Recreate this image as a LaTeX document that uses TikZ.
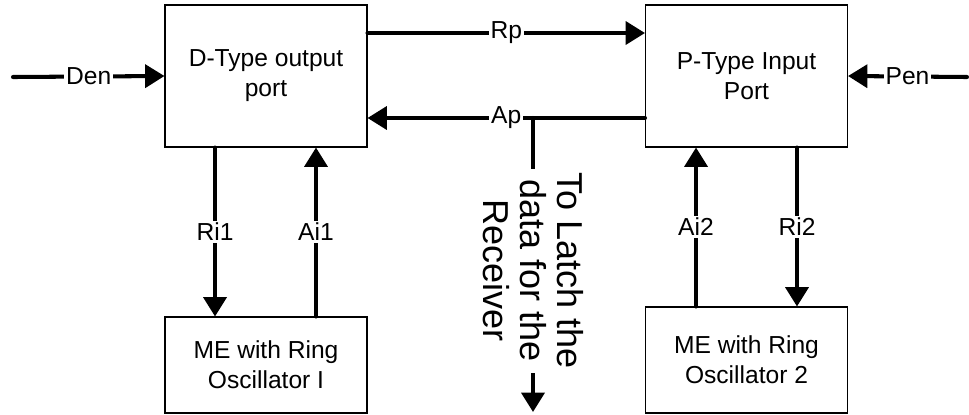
\documentclass[tikz,border=0pt]{standalone}
\usepackage{fontspec}
\setmainfont{Liberation Sans}
\usetikzlibrary{arrows.meta}
\tikzset{
  box/.style={draw, line width=0.6pt, minimum width=4.04cm, align=center,
    font=\fontsize{14}{17}\selectfont},
  sig/.style={line width=2.3pt, line cap=round, -{Triangle[length=11pt,width=13pt]}},
  lbl/.style={fill=white, inner sep=1pt, font=\fontsize{14}{16}\selectfont},
  rottxt/.style={fill=white, inner sep=2pt, rotate=-90, align=center,
    font=\fontsize{20.5}{21}\selectfont}
}

\begin{document}
\begin{tikzpicture}[x=0.02cm, y=-0.02cm]
        \useasboundingbox (0,0) rectangle (969,414);

        \node[box, minimum height=2.84cm] (D) at (266,76) {D-Type output\\port};
        \node[box, minimum height=2.84cm] (P) at (746.5,76) {P-Type Input\\Port};
        \node[box, minimum height=1.92cm] (M1) at (266,365) {ME with Ring\\Oscillator I};
        \node[box, minimum height=2.12cm] (M2) at (746.5,360) {ME with Ring\\Oscillator 2};

        \coordinate (den) at (13,77);
        \coordinate (pen) at (967,77);
        \coordinate (tap) at (533,118);
        \coordinate (rcv) at (533,412);

        \draw[sig] (den) -- node[lbl] {Den} (D.west);
        \draw[sig] (pen) -- node[lbl] {Pen} (P.east);
        \draw[sig] ([yshift=0.86cm]D.east) -- node[lbl] {Rp} ([yshift=0.86cm]P.west);
        \draw[sig] ([yshift=-0.84cm]P.west) -- node[lbl] {Ap} ([yshift=-0.84cm]D.east);
        \draw[sig] (tap) -- node[rottxt, pos=0.52] {To Latch the\\data for the\\Receiver} (rcv);

        \draw[sig] ([xshift=-1.02cm]D.south) -- node[lbl] {Ri1} ([xshift=-1.02cm]M1.north);
        \draw[sig] ([xshift=1cm]M1.north) -- node[lbl] {Ai1} ([xshift=1cm]D.south);
        \draw[sig] ([xshift=-1.01cm]M2.north) -- node[lbl] {Ai2} ([xshift=-1.01cm]P.south);
        \draw[sig] ([xshift=1.01cm]P.south) -- node[lbl] {Ri2} ([xshift=1.01cm]M2.north);
      \end{tikzpicture}
\end{document}
